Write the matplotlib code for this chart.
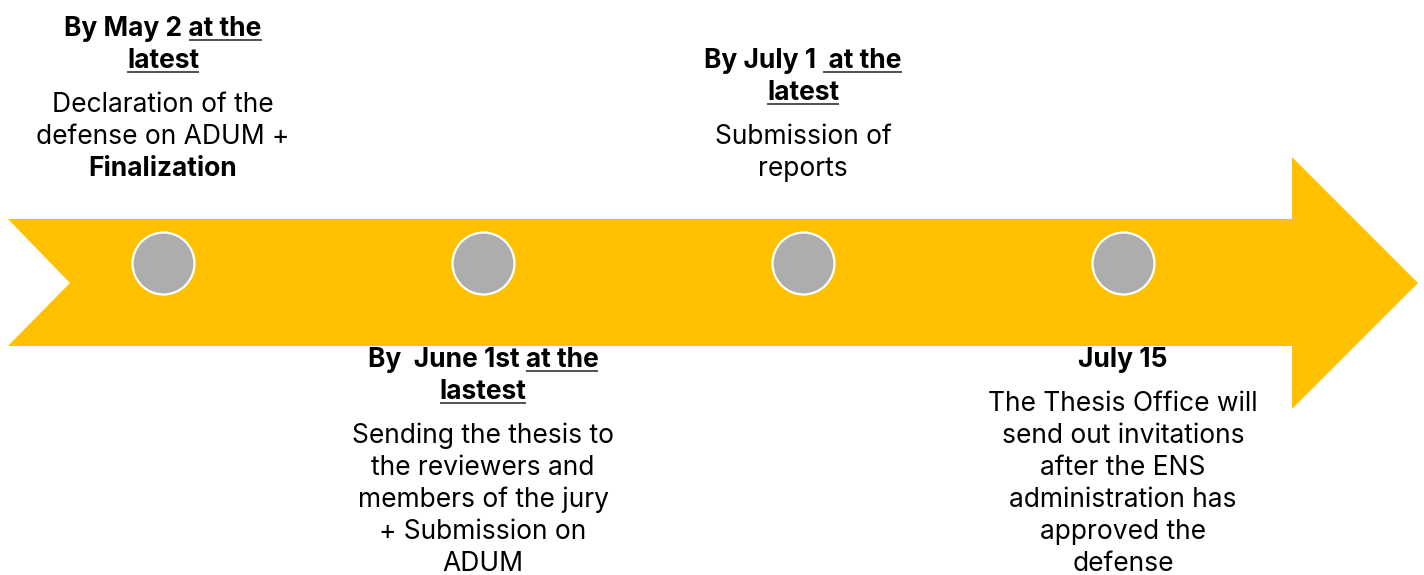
import matplotlib.pyplot as plt

plt.rcParams['font.family'] = ['Inter', 'DejaVu Sans']

# timeline steps, left to right
steps = [0, 1, 2, 3]
sides = ['top', 'bottom', 'top', 'bottom']

# header lines (bold): each line is (plain part, underlined part)
headers = [
    [('By May 2 ', 'at the'), ('', 'latest')],
    [('By  June 1st ', 'at the'), ('', 'lastest')],
    [('By July 1 ', ' at the'), ('', 'latest')],
    [('July 15', '')],
]

# body lines: (text, bold)
bodies = [
    [('Declaration of the', False), ('defense on ADUM +', False), ('Finalization', True)],
    [('Sending the thesis to', False), ('the reviewers and', False),
     ('members of the jury', False), ('+ Submission on', False), ('ADUM', False)],
    [('Submission of', False), ('reports', False)],
    [('The Thesis Office will', False), ('send out invitations', False),
     ('after the ENS', False), ('administration has', False),
     ('approved the', False), ('defense', False)],
]

yellow = '#FFC000'
grey = '#ADADAD'
fs = 19
line_h = 32
gap = 44

fig = plt.figure(figsize=(14.24, 5.75), dpi=100)
ax = fig.add_axes([0, 0, 1, 1])
px = 320  # pixels per step
ax.set_xlim(steps[0] - 163 / px, steps[0] + (1424 - 163) / px)
ax.set_ylim(575, 0)
ax.axis('off')

# arrow body + head
x0 = steps[0] - 155 / px
notch = steps[0] - 93 / px
xb = steps[-1] + 169 / px
xt = steps[-1] + 295 / px
arrow = [(x0, 219), (xb, 219), (xb, 157), (xt, 283), (xb, 409),
         (xb, 346), (x0, 346), (notch, 283)]
ax.add_patch(plt.Polygon(arrow, closed=True, facecolor=yellow, edgecolor='none'))

ax.scatter(steps, [263] * len(steps), s=1990, color=grey, edgecolors='white',
           linewidths=1.6, zorder=3)

r = fig.canvas.get_renderer()


def width(s, weight):
    prop = plt.matplotlib.font_manager.FontProperties(family=['Inter', 'DejaVu Sans'],
                                                      size=fs, weight=weight)
    w1 = r.get_text_width_height_descent(s + '|', prop, ismath=False)[0]
    w2 = r.get_text_width_height_descent('|', prop, ismath=False)[0]
    return (w1 - w2) / px


def header_line(x, y, plain, under):
    full = plain + under
    ax.text(x, y, full, ha='center', va='baseline', fontsize=fs,
            fontweight='bold', color='black')
    if under:
        W = width(full, 'bold')
        P = width(plain, 'bold') if plain else 0
        left = x - W / 2
        ax.plot([left + P, left + W], [y + 3.5, y + 3.5], color='#222222', lw=1.1,
                solid_capstyle='butt')


for i, side in enumerate(sides):
    x = steps[i]
    hd = headers[i]
    bd = bodies[i]
    if side == 'top':
        last = 176
        ys_body = [last - line_h * (len(bd) - 1 - k) for k in range(len(bd))]
        first_hd = ys_body[0] - gap - line_h * (len(hd) - 1)
        ys_hd = [first_hd + line_h * k for k in range(len(hd))]
    else:
        ys_hd = [367 + line_h * k for k in range(len(hd))]
        ys_body = [ys_hd[-1] + gap + line_h * k for k in range(len(bd))]
    for (plain, under), y in zip(hd, ys_hd):
        header_line(x, y, plain, under)
    for (txt, bold), y in zip(bd, ys_body):
        ax.text(x, y, txt, ha='center', va='baseline', fontsize=fs,
                fontweight='bold' if bold else 'normal', color='black')

fig.savefig('out.png', dpi=100)
